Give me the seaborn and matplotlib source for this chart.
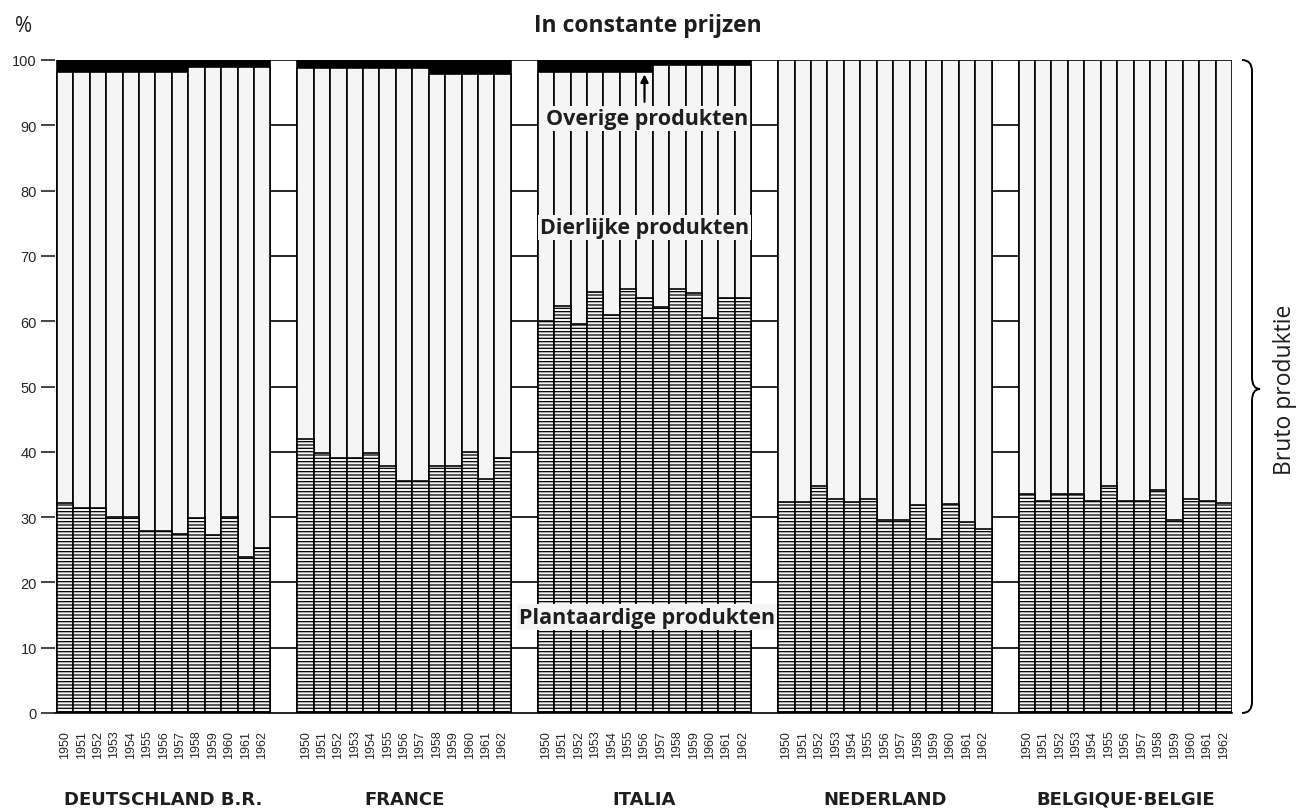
import matplotlib
matplotlib.use("Agg")
import matplotlib.pyplot as plt
import matplotlib.transforms as mtransforms
from matplotlib.patches import PathPatch
from matplotlib.path import Path
import seaborn as sns
import pandas as pd

countries = ["DEUTSCHLAND B.R.", "FRANCE", "ITALIA", "NEDERLAND", "BELGIQUE·BELGIE"]
years = [1950, 1951, 1952, 1953, 1954, 1955, 1956, 1957, 1958, 1959, 1960, 1961, 1962]

# plantaardige produkten, % van bruto produktie
plant_de = [32.2, 31.4, 31.4, 30.0, 30.0, 27.9, 27.9, 27.4, 29.9, 27.3, 30.0, 23.9, 25.3]
plant_fr = [41.9, 39.8, 39.1, 39.1, 39.8, 37.8, 35.6, 35.6, 37.8, 37.8, 40.0, 35.8, 39.1]
plant_it = [60.0, 62.3, 59.6, 64.5, 61.0, 65.0, 63.5, 62.2, 65.0, 64.3, 60.5, 63.6, 63.6]
plant_nl = [32.3, 32.3, 34.8, 32.8, 32.3, 32.7, 29.5, 29.5, 31.9, 26.6, 32.0, 29.2, 28.2]
plant_be = [33.5, 32.4, 33.5, 33.5, 32.4, 34.8, 32.4, 32.4, 34.1, 29.5, 32.8, 32.4, 32.2]

# overige produkten (black band at the top)
other_de = [1.9, 1.9, 1.9, 1.9, 1.9, 1.9, 1.9, 1.9, 1.1, 1.1, 1.1, 1.1, 1.1]
other_fr = [1.3, 1.3, 1.3, 1.3, 1.3, 1.3, 1.3, 1.3, 2.1, 2.1, 2.1, 2.1, 2.1]
other_it = [1.9, 1.9, 1.9, 1.9, 1.9, 1.9, 1.9, 0.8, 0.8, 0.8, 0.8, 0.8, 0.8]
other_nl = [0.0, 0.0, 0.0, 0.0, 0.0, 0.0, 0.0, 0.0, 0.0, 0.0, 0.0, 0.0, 0.0]
other_be = [0.0, 0.0, 0.0, 0.0, 0.0, 0.0, 0.0, 0.0, 0.0, 0.0, 0.0, 0.0, 0.0]

plants = [plant_de, plant_fr, plant_it, plant_nl, plant_be]
others = [other_de, other_fr, other_it, other_nl, other_be]

gap = 1.65  # empty space between country groups, in bar widths
rows = []
for g, (c, pl, ot) in enumerate(zip(countries, plants, others)):
    for i, yr in enumerate(years):
        rows.append({"country": c, "year": yr, "pos": g * (len(years) + gap) + i,
                     "plant": pl[i], "other": ot[i]})
df = pd.DataFrame(rows)
df["total"] = 100.0
df["animal_top"] = df["total"] - df["other"]

sns.set_style("white")
plt.rcParams["font.family"] = ["Open Sans", "DejaVu Sans"]
plt.rcParams["hatch.linewidth"] = 0.9

W, H = 1301, 812
bar_fill = "#f5f5f5"
ink = "#1e1e1e"
fig = plt.figure(figsize=(W / 100, H / 100), dpi=100)
fig.patch.set_facecolor("white")
ax = fig.add_axes([55 / W, 98 / H, (1232 - 55) / W, (714 - 61) / H])
ax.set_facecolor("white")

common = dict(data=df, x="pos", native_scale=True, width=1, saturation=1,
              errorbar=None, edgecolor="black", linewidth=1.2, ax=ax)
sns.barplot(y="total", color="black", **common)
sns.barplot(y="animal_top", color=bar_fill, **common)
sns.barplot(y="plant", color=bar_fill, hatch="-----", **common)

# horizontal scale lines in the gaps between the groups
for g in range(len(countries) - 1):
    x0 = g * (len(years) + gap) + len(years) - 0.5
    ax.hlines(range(10, 101, 10), x0, x0 + gap, colors="black", linewidth=1.2)

ax.set_xlim(-0.5 - 2 / 16.41, df["pos"].max() + 0.5)
ax.set_ylim(0, 100)
ax.set_yticks(range(0, 101, 10))
ax.set_yticklabels([str(v) for v in range(0, 101, 10)], fontsize=10.5,
                   family="Liberation Sans")
ax.tick_params(axis="y", length=10, width=1.2, pad=3, left=True)
ax.set_xticks(df["pos"])
ax.set_xticklabels(df["year"].astype(str), rotation=90, fontsize=9,
                   family="Liberation Sans")
ax.tick_params(axis="x", length=0, pad=12)
ax.set_xlabel("")
ax.set_ylabel("")
for s in ["left", "top", "right"]:
    ax.spines[s].set_visible(False)
ax.spines["bottom"].set_linewidth(1.2)
ax.spines["bottom"].set_color("black")

# country names under the groups
tr = mtransforms.blended_transform_factory(ax.transData, fig.transFigure)
for g, c in enumerate(countries):
    cx = g * (len(years) + gap) + (len(years) - 1) / 2
    ax.text(cx, 1 - 800 / H, c, transform=tr, ha="center", va="center",
            fontsize=13, fontweight="bold", color=ink, family="DejaVu Sans")

# labels inside the chart
box = dict(facecolor=bar_fill, edgecolor="none", pad=1.5)
ax.text(35.45, 91.0, "Overige produkten", ha="center", va="center",
        fontsize=15.5, fontweight="bold", color=ink, bbox=box)
ax.text(35.3, 74.4, "Dierlijke produkten", ha="center", va="center",
        fontsize=15.5, fontweight="bold", color=ink, bbox=box)
ax.text(35.45, 14.7, "Plantaardige produkten", ha="center", va="center",
        fontsize=15.5, fontweight="bold", color=ink, bbox=box)
ax.annotate("", xy=(35.3, 97.8), xytext=(35.3, 93.6),
            arrowprops=dict(arrowstyle="-|>", color="black", lw=1.6,
                            mutation_scale=11, shrinkA=0, shrinkB=0))

fig.text(648 / W, 1 - 26 / H, "In constante prijzen", ha="center", va="center",
         fontsize=16.5, fontweight="bold", color=ink)
fig.text(24 / W, 1 - 27 / H, "%", ha="center", va="center", fontsize=15,
         color=ink)
fig.text(1285 / W, 1 - 390 / H, "Bruto produktie", ha="center", va="center",
         rotation=90, fontsize=16.5, color=ink)

# curly brace on the right
def px(x, y):
    return (x / W, 1 - y / H)

verts = [px(1242, 61), px(1252, 61), px(1252, 72), px(1252, 378),
         px(1252, 390), px(1260, 390), px(1252, 390), px(1252, 402),
         px(1252, 703), px(1252, 714), px(1242, 714)]
codes = [Path.MOVETO, Path.CURVE3, Path.CURVE3, Path.LINETO,
         Path.CURVE3, Path.CURVE3, Path.CURVE3, Path.CURVE3,
         Path.LINETO, Path.CURVE3, Path.CURVE3]
fig.patches.append(PathPatch(Path(verts, codes), transform=fig.transFigure,
                             facecolor="none", edgecolor="black", lw=1.4))

fig.savefig("out.png", dpi=100)
